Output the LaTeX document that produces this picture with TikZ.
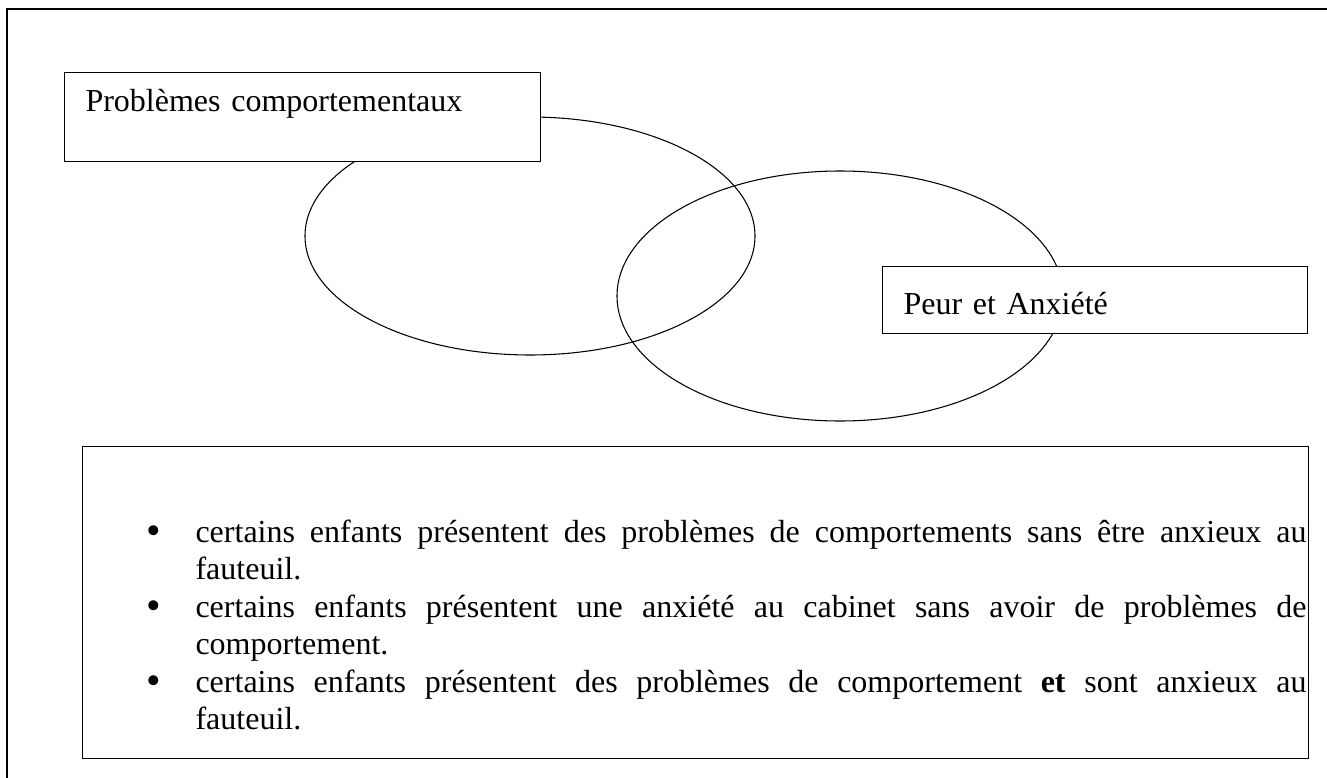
\documentclass[tikz,border=0pt]{standalone}
\usepackage{fontspec}
\setmainfont{Liberation Serif}
\usepackage{enumitem}
\newlength\unitpx
\setlength\unitpx{0.375pt}

\begin{document}
\begin{tikzpicture}[x=\unitpx, y=-\unitpx, font=\fontsize{12}{14.06}\selectfont]
\useasboundingbox (0,0) rectangle (1327,778);
% cadre exterieur
\draw (7,778) -- (7,9) -- (1327,9);
% les deux ensembles
\draw (530,236) ellipse [x radius=225, y radius=119];
\draw (840,296) ellipse [x radius=223, y radius=125];
% etiquettes
\node[draw, fill=white, anchor=north west, inner xsep=21\unitpx, inner ysep=0pt,
  text width=434\unitpx, text height=39\unitpx, text depth=50\unitpx, align=left]
  (comport) at (64,72) {Problèmes comportementaux};
\node[draw, fill=white, anchor=north west, inner xsep=21\unitpx, inner ysep=0pt,
  text width=383\unitpx, text height=48\unitpx, text depth=19\unitpx, align=left]
  (peur) at (882,266) {Peur et Anxiété};
% encadre du bas
\node[draw, anchor=north west, minimum width=1226\unitpx, minimum height=312\unitpx,
  inner sep=0pt] (cadre) at (82,446) {};
\node[anchor=base west, inner sep=0pt, text width=1153\unitpx, align=justify,
  execute at begin node={\hyphenpenalty=10000\exhyphenpenalty=10000\spaceskip=0.25em plus 1em\relax}]
  (liste) at (153,505) {\begin{itemize}[leftmargin=42\unitpx, labelwidth=0pt, labelsep=42\unitpx,
    label={\makebox[0pt]{\raisebox{-0.9pt}{\scalebox{1.3}{\textbullet}}}},
    itemsep=0pt, parsep=0pt, topsep=0pt, partopsep=0pt]
  \item certains enfants présentent des problèmes de comportements sans être anxieux au fauteuil.
  \item certains enfants présentent une anxiété au cabinet sans avoir de problèmes de comportement.
  \item certains enfants présentent des problèmes de comportement \textbf{et} sont anxieux au fauteuil.
  \end{itemize}};
\end{tikzpicture}
\end{document}
